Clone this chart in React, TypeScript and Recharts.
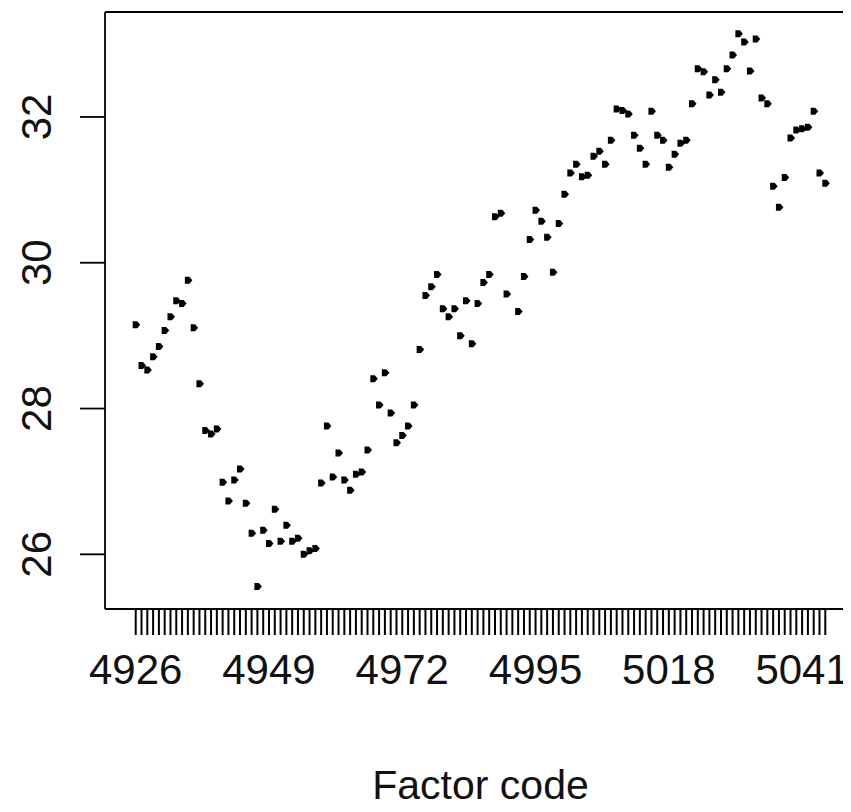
import React from "react";
import { ScatterChart, Scatter, XAxis, YAxis, ReferenceLine } from "recharts";

// Factor levels (consecutive codes) and the labelled subset
const codes: number[] = Array.from({ length: 120 }, (_, i) => 4926 + i);
const labeledCodes = [4926, 4949, 4972, 4995, 5018, 5041];
const yTicks = [26, 28, 30, 32];
const yDomain: [number, number] = [25.25, 33.44];
const xDomain: [number, number] = [4920.7, 5050.3];

// One value per factor level (null = no observation)
const values: (number | null)[] = [
  29.15, 28.59, 28.53, 28.71, 28.85, 29.07, 29.26, 29.48, 29.44, 29.76,
  29.11, 28.34, 27.70, 27.65, 27.72, 26.99, 26.73, 27.02, 27.17, 26.70,
  26.29, 25.56, 26.33, 26.15, 26.62, 26.18, 26.40, 26.18, 26.22, 26.00,
  26.05, 26.08, 26.98, 27.76, 27.06, 27.39, 27.02, 26.88, 27.10, 27.13,
  27.43, 28.41, 28.05, 28.49, 27.94, 27.53, 27.63, 27.76, 28.05, 28.81,
  29.55, 29.67, 29.84, 29.37, 29.26, 29.37, 29.00, 29.48, 28.89, 29.44,
  29.73, 29.84, 30.63, 30.68, 29.57, null, 29.33, 29.81, 30.32, 30.72,
  30.57, 30.35, 29.87, 30.54, 30.94, 31.23, 31.35, 31.18, 31.20, 31.46,
  31.53, 31.35, 31.68, 32.11, 32.09, 32.04, 31.75, 31.57, 31.35, 32.08,
  31.75, 31.68, 31.31, 31.49, 31.64, 31.68, 32.18, 32.66, 32.62, 32.30,
  32.51, 32.34, 32.66, 32.85, 33.14, 33.03, 32.63, 33.07, 32.26, 32.18,
  31.05, 30.76, 31.17, 31.71, 31.82, 31.84, 31.86, 32.08, 31.23, 31.09,
];

const data = codes
  .map((code, i) => ({ code, value: values[i] }))
  .filter((d) => d.value !== null);

const FONT = "'Liberation Sans', Arial, sans-serif";
const FS = 42;
const INK = "#000";

const XTick = (props: any) => {
  const { x, y, payload } = props;
  if (!labeledCodes.includes(payload.value)) return null;
  return (
    <text
      x={x}
      y={y + 47}
      textAnchor="middle"
      fontFamily={FONT}
      fontSize={FS}
      fill="#111"
    >
      {payload.value}
    </text>
  );
};

const YTick = (props: any) => {
  const { x, y, payload } = props;
  const cx = x - 41;
  return (
    <text
      x={cx}
      y={y}
      textAnchor="middle"
      dominantBaseline="central"
      transform={`rotate(-90 ${cx} ${y})`}
      fontFamily={FONT}
      fontSize={FS}
      fill="#111"
    >
      {payload.value}
    </text>
  );
};

const Marker = (props: any) => {
  const { cx, cy } = props;
  if (cx == null || cy == null) return null;
  const d = `M${cx - 3},${cy - 3.5} L${cx + 1.5},${cy - 3.5} L${cx + 4.5},${cy} L${cx + 1.5},${cy + 3.5} L${cx - 3},${cy + 3.5} Z`;
  return <path d={d} fill={INK} stroke="none" />;
};

export default function App() {
  return (
    <div
      style={{
        width: 851,
        height: 812,
        overflow: "hidden",
        margin: -8,
        background: "#fff",
      }}
    >
      <ScatterChart
        width={860}
        height={812}
        margin={{ top: 12, right: 4, bottom: 0, left: 0 }}
      >
        <XAxis
          dataKey="code"
          type="number"
          domain={xDomain}
          ticks={codes}
          interval={0}
          allowDataOverflow
          height={203}
          tickSize={26}
          tickMargin={2}
          axisLine={{ stroke: INK, strokeWidth: 1.8 }}
          tickLine={{ stroke: INK, strokeWidth: 2 }}
          tick={<XTick />}
          label={{
            value: "Factor code",
            position: "insideBottom",
            offset: 13,
            style: { fontFamily: FONT, fontSize: 41, fill: "#111" },
          }}
        />
        <YAxis
          dataKey="value"
          type="number"
          domain={yDomain}
          ticks={yTicks}
          allowDataOverflow
          width={105}
          tickSize={25}
          tickMargin={2}
          axisLine={{ stroke: INK, strokeWidth: 1.8 }}
          tickLine={{ stroke: INK, strokeWidth: 1.8 }}
          tick={<YTick />}
        />
        <ReferenceLine y={yDomain[1]} stroke={INK} strokeWidth={1.8} ifOverflow="visible" />
        <Scatter data={data} dataKey="value" shape={<Marker />} isAnimationActive={false} />
      </ScatterChart>
    </div>
  );
}
